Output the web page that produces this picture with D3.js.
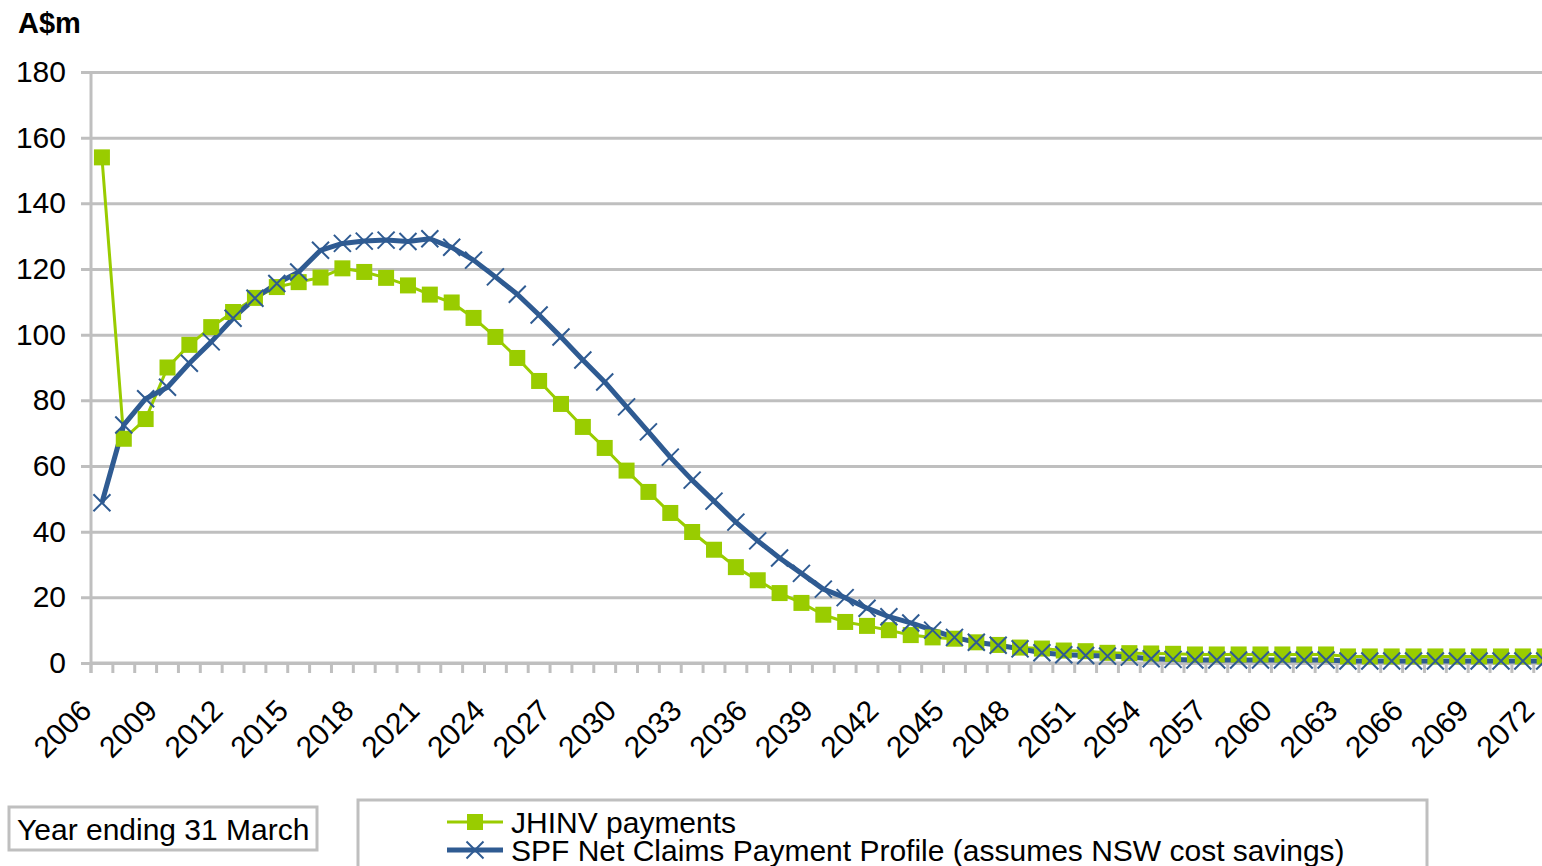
<!DOCTYPE html>
<html>
<head>
<meta charset="utf-8">
<script src="https://cdn.jsdelivr.net/npm/d3@7"></script>
<style>
  body { margin: 0; background: #fff; }
  svg { display: block; font-family: "Liberation Sans", Arial, sans-serif; }
  .axis path, .axis line { stroke: #bfbfbf; }
  .axis text { fill: #000; font-size: 30px; }
</style>
</head>
<body>
<svg id="chart"></svg>
<script>
// Year ending 31 March
const years = d3.range(2006, 2073);
const yTicks = [0, 20, 40, 60, 80, 100, 120, 140, 160, 180];

const jhinvPayments = [
  154, 68.3, 74.3, 90, 96.9, 102.3, 106.9, 111.2, 114.5, 116,
  117.4, 120.2, 119.1, 117.3, 115, 112.2, 109.8, 105.1, 99.3, 92.9,
  85.9, 78.9, 71.9, 65.5, 58.6, 52.1, 45.7, 39.9, 34.5, 29.2,
  25.2, 21.3, 18.3, 14.7, 12.5, 11.3, 10.0, 8.5, 7.8, 7.4,
  6.3, 5.5, 4.7, 4.4, 3.8, 3.6, 3.1, 3.0, 2.9, 2.8,
  2.6, 2.6, 2.6, 2.6, 2.6, 2.6, 2.6,
  2.0, 2.0, 2.0, 2.0, 2.0, 2.0, 2.0, 2.0, 2.0, 2.0
];

const spfNetClaims = [
  48.8, 72.5, 80.5, 84, 91.3, 97.8, 105, 111.1, 115.6, 119.1,
  125.7, 127.8, 128.5, 128.8, 128.4, 129.2, 126.6, 122.7, 117.6, 112.3,
  106, 99.3, 92.3, 85.6, 78, 70.4, 62.7, 55.7, 49.3, 42.9,
  37.2, 32, 27.3, 22.5, 19.9, 16.7, 14.1, 12.2, 10.0, 7.8,
  6.3, 5.4, 4.3, 3.1, 2.5, 2.3, 2.1, 1.8, 1.3, 1.1,
  0.9, 0.9, 0.9, 0.9, 0.9, 0.9, 0.9,
  0.6, 0.6, 0.6, 0.6, 0.6, 0.6, 0.6, 0.6, 0.6, 0.6
];

const seriesNames = ['JHINV payments', 'SPF Net Claims Payment Profile (assumes NSW cost savings)'];
const seriesColors = ['#99cc00', '#2f5b92'];

const width = 1542, height = 866;
const margin = {top: 72, left: 91};
const bandStep = 21.86;

const svg = d3.select('#chart')
    .attr('width', width)
    .attr('height', height);

// x: one band per year, plot runs off the right edge like the source
const xScale = d3.scaleBand()
    .domain(years)
    .range([margin.left, margin.left + years.length * bandStep])
    .paddingInner(0).paddingOuter(0);

const yScale = d3.scaleLinear()
    .domain([0, 180])
    .range([663, margin.top]);

const xCenter = d => xScale(d) + xScale.bandwidth() / 2;

// Gridlines (drawn as long y ticks)
const yAxis = d3.axisLeft(yScale)
    .tickValues(yTicks)
    .tickSize(-(width - margin.left))
    .tickSizeOuter(0)
    .tickPadding(25);

const yAxisG = svg.append('g')
    .attr('class', 'axis y-axis')
    .attr('transform', `translate(${margin.left},0)`)
    .call(yAxis);
yAxisG.select('.domain').remove();
yAxisG.selectAll('.tick line')
    .attr('x1', -10)
    .attr('stroke-width', 3);

// y axis line
svg.append('line')
    .attr('x1', margin.left).attr('x2', margin.left)
    .attr('y1', yScale(180)).attr('y2', yScale(0) + 10)
    .attr('stroke', '#bfbfbf')
    .attr('stroke-width', 3);

// x axis: ticks at category boundaries, labels every 3 years
const xAxisG = svg.append('g')
    .attr('class', 'axis x-axis');

xAxisG.selectAll('.xtick')
    .data(years)
  .join('line')
    .attr('class', 'xtick')
    .attr('x1', d => xScale(d)).attr('x2', d => xScale(d))
    .attr('y1', yScale(0)).attr('y2', yScale(0) + 10)
    .attr('stroke', '#bfbfbf')
    .attr('stroke-width', 3);

xAxisG.append('line')
    .attr('x1', margin.left).attr('x2', width)
    .attr('y1', yScale(0)).attr('y2', yScale(0))
    .attr('stroke', '#bfbfbf')
    .attr('stroke-width', 3);

xAxisG.selectAll('.xlabel')
    .data(years.filter(d => (d - 2006) % 3 === 0))
  .join('text')
    .attr('class', 'xlabel')
    .attr('text-anchor', 'end')
    .attr('dy', '0.35em')
    .attr('transform', d => `translate(${xCenter(d) - 16},${yScale(0) + 42}) rotate(-45)`)
    .text(d => d);

// Unit label
svg.append('text')
    .attr('x', 18).attr('y', 33)
    .attr('font-size', 29)
    .attr('font-weight', 'bold')
    .text('A$m');

// Lines first, then markers (as the source draws them)
const line = d3.line()
    .x((d, i) => xCenter(years[i]))
    .y(d => yScale(d));

const marks = svg.append('g');

marks.append('path')
    .datum(jhinvPayments)
    .attr('d', line)
    .attr('fill', 'none')
    .attr('stroke', seriesColors[0])
    .attr('stroke-width', 3)
    .attr('stroke-linejoin', 'round');

marks.append('path')
    .datum(spfNetClaims)
    .attr('d', line)
    .attr('fill', 'none')
    .attr('stroke', seriesColors[1])
    .attr('stroke-width', 5)
    .attr('stroke-linejoin', 'round');

const sq = 16;
marks.selectAll('.sq')
    .data(jhinvPayments)
  .join('rect')
    .attr('class', 'sq')
    .attr('x', (d, i) => xCenter(years[i]) - sq / 2)
    .attr('y', d => yScale(d) - sq / 2)
    .attr('width', sq).attr('height', sq)
    .attr('fill', seriesColors[0]);

const xm = 8.5;
const crossPath = (cx, cy) => `M${cx - xm},${cy - xm}L${cx + xm},${cy + xm}M${cx - xm},${cy + xm}L${cx + xm},${cy - xm}`;
marks.selectAll('.cross')
    .data(spfNetClaims)
  .join('path')
    .attr('class', 'cross')
    .attr('d', (d, i) => crossPath(xCenter(years[i]), yScale(d)))
    .attr('stroke', seriesColors[1])
    .attr('stroke-width', 2)
    .attr('fill', 'none');

// "Year ending 31 March" box
svg.append('rect')
    .attr('x', 9).attr('y', 807)
    .attr('width', 308).attr('height', 43)
    .attr('fill', '#fff')
    .attr('stroke', '#bfbfbf')
    .attr('stroke-width', 3);
svg.append('text')
    .attr('x', 17).attr('y', 829)
    .attr('dy', '0.35em')
    .attr('font-size', 30)
    .text('Year ending 31 March');

// Legend
const legend = svg.append('g');
legend.append('rect')
    .attr('x', 358).attr('y', 800)
    .attr('width', 1069).attr('height', 100)
    .attr('fill', '#fff')
    .attr('stroke', '#bfbfbf')
    .attr('stroke-width', 3);

const legendRows = [822, 850];
seriesNames.forEach((name, i) => {
  const y = legendRows[i];
  legend.append('line')
      .attr('x1', 447).attr('x2', 503)
      .attr('y1', y).attr('y2', y)
      .attr('stroke', seriesColors[i])
      .attr('stroke-width', i === 0 ? 3 : 5);
  if (i === 0) {
    legend.append('rect')
        .attr('x', 475 - sq / 2).attr('y', y - sq / 2)
        .attr('width', sq).attr('height', sq)
        .attr('fill', seriesColors[0]);
  } else {
    legend.append('path')
        .attr('d', crossPath(475, y))
        .attr('stroke', seriesColors[1])
        .attr('stroke-width', 2);
  }
  legend.append('text')
      .attr('x', 511).attr('y', y)
      .attr('dy', '0.35em')
      .attr('font-size', 30)
      .text(name);
});
</script>
</body>
</html>
